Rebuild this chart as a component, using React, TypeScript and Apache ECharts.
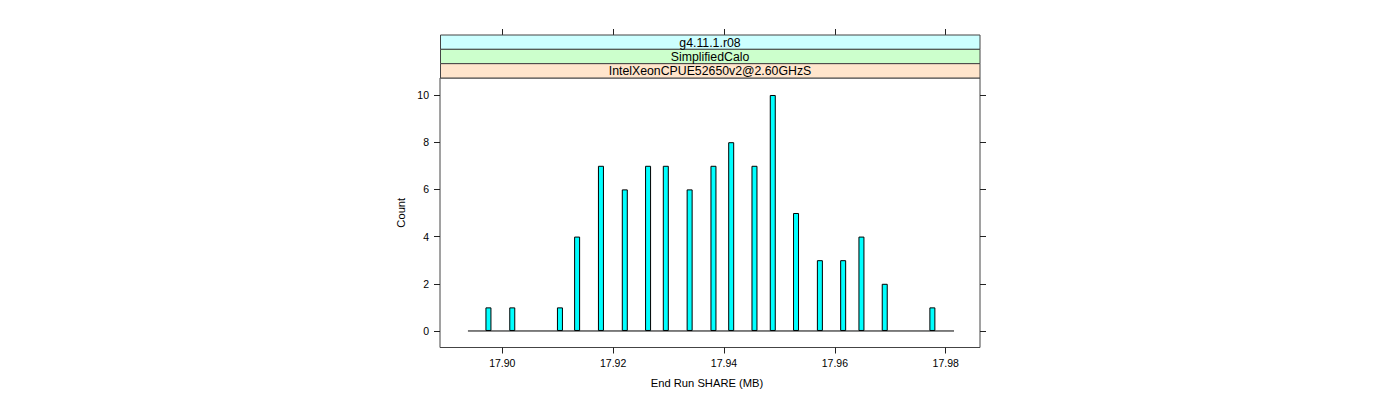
import React, { useEffect, useRef } from "react";
import * as echarts from "echarts";

// ---- data ----
const binCenters = [
  17.8975, 17.9018, 17.9104, 17.9135, 17.9178, 17.9221, 17.9263, 17.9295,
  17.9338, 17.9381, 17.9413, 17.9455, 17.9488, 17.953, 17.9573, 17.9615,
  17.9648, 17.969, 17.9776,
];
const counts = [1, 1, 1, 4, 7, 6, 7, 7, 6, 7, 8, 7, 10, 5, 3, 3, 4, 2, 1];
const baselineExtent = [17.8938, 17.9815];
const xTicks = [17.9, 17.92, 17.94, 17.96, 17.98];
const yTicks = [0, 2, 4, 6, 8, 10];
const stripLabels = ["g4.11.1.r08", "SimplifiedCalo", "IntelXeonCPUE52650v2@2.60GHzS"];
const stripColors = ["#CCFFFF", "#CCFFCC", "#FFE5CC"];
const xTitle = "End Run SHARE (MB)";
const yTitle = "Count";

const X_MIN = 17.88876;
const X_MAX = 17.98619;
const Y_MIN = -0.7;
const Y_MAX = 10.72;

const FONT = "'Liberation Sans', Arial, Helvetica, sans-serif";
const LINE = "#444";
const TICK_COLOR = "#222";

export default function App() {
  const ref = useRef<HTMLDivElement>(null);
  useEffect(() => {
    if (!ref.current) return;
    const chart = echarts.init(ref.current, null, { renderer: "svg" });
    const gridLeft = 440;
    const gridTop = 78;
    const gridW = 540;
    const gridH = 269.5;
    const stripTop = 35;
    const stripH = (gridTop - stripTop) / 3;
    const TICK = 6;

    const tickStyle = { show: true, inside: false, length: TICK, lineStyle: { color: TICK_COLOR, width: 1 } };

    const graphics: any[] = [];
    stripLabels.forEach((lab, i) => {
      const y = stripTop + i * stripH;
      graphics.push({
        type: "rect",
        shape: { x: gridLeft + 0.5, y: y, width: gridW - 0.5, height: stripH },
        style: { fill: stripColors[i], stroke: LINE, lineWidth: 1 },
        z: 10,
      });
      graphics.push({
        type: "text",
        x: gridLeft + gridW / 2,
        y: y + stripH / 2 + 0.5,
        style: {
          text: lab,
          fill: "#000",
          font: `12.3px ${FONT}`,
          textAlign: "center",
          textVerticalAlign: "middle",
        },
        z: 11,
      });
    });
    graphics.push({
      type: "text",
      x: 707,
      y: 383,
      style: { text: xTitle, fill: "#000", font: `11.2px ${FONT}`, textAlign: "center", textVerticalAlign: "middle" },
    });
    graphics.push({
      type: "text",
      x: 401,
      y: gridTop + gridH / 2,
      rotation: Math.PI / 2,
      style: { text: yTitle, fill: "#000", font: `11.2px ${FONT}`, textAlign: "center", textVerticalAlign: "middle" },
    });

    const xCommon = {
      type: "value" as const,
      min: X_MIN,
      max: X_MAX,
      splitLine: { show: false },
      axisLine: { show: false, onZero: false },
    };
    const yCommon = {
      type: "value" as const,
      min: Y_MIN,
      max: Y_MAX,
      splitLine: { show: false },
      axisLine: { show: false, onZero: false },
    };

    chart.setOption({
      animation: false,
      backgroundColor: "#fff",
      textStyle: { fontFamily: FONT },
      grid: {
        left: gridLeft,
        top: gridTop,
        width: gridW,
        height: gridH,
        show: true,
        borderColor: LINE,
        borderWidth: 1,
        backgroundColor: "transparent",
      },
      xAxis: [
        {
          ...xCommon,
          position: "bottom",
          axisTick: { ...tickStyle, customValues: xTicks },
          axisLabel: {
            show: true,
            customValues: xTicks,
            margin: 10,
            color: "#000",
            fontSize: 10.5,
            fontFamily: FONT,
            formatter: (v: number) => v.toFixed(2),
          },
        },
        {
          ...xCommon,
          position: "top",
          offset: gridTop - stripTop,
          axisTick: { ...tickStyle, customValues: xTicks },
          axisLabel: { show: false, customValues: xTicks },
        },
      ],
      yAxis: [
        {
          ...yCommon,
          position: "left",
          axisTick: { ...tickStyle, customValues: yTicks },
          axisLabel: {
            show: true,
            customValues: yTicks,
            margin: 11,
            color: "#000",
            fontSize: 10.5,
            fontFamily: FONT,
          },
        },
        {
          ...yCommon,
          position: "right",
          axisTick: { ...tickStyle, customValues: yTicks },
          axisLabel: { show: false, customValues: yTicks },
        },
      ],
      graphic: graphics,
      series: [
        {
          type: "line",
          xAxisIndex: 0,
          yAxisIndex: 0,
          data: [
            [baselineExtent[0], 0],
            [baselineExtent[1], 0],
          ],
          symbol: "none",
          lineStyle: { color: "#000", width: 1 },
          z: 1,
          silent: true,
        },
        {
          type: "bar",
          xAxisIndex: 0,
          yAxisIndex: 0,
          data: binCenters.map((x, i) => [x, counts[i]]),
          barWidth: 6,
          itemStyle: { color: "#00FFFF", borderColor: "#000", borderWidth: 1 },
          z: 2,
        },
      ],
    });
    return () => chart.dispose();
  }, []);
  return (
    <div
      ref={ref}
      style={{ position: "fixed", left: 0, top: 0, width: 1400, height: 400, background: "#fff" }}
    />
  );
}
